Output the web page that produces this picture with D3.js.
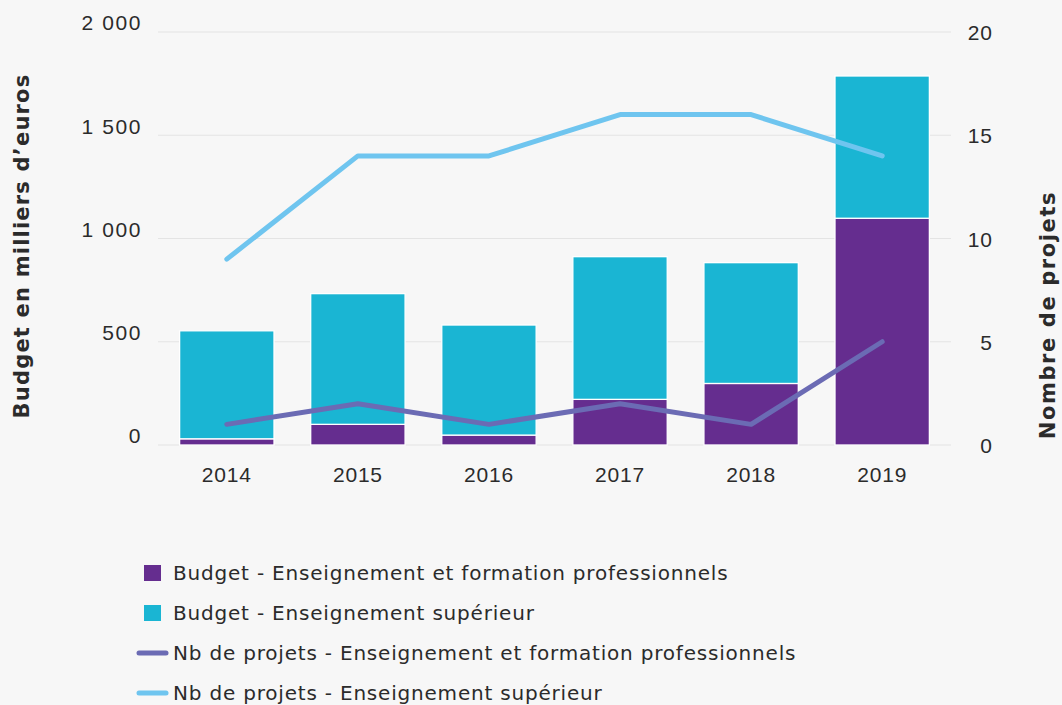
<!DOCTYPE html>
<html>
<head>
<meta charset="utf-8">
<script src="https://cdn.jsdelivr.net/npm/d3@7"></script>
<style>
  html, body { margin: 0; padding: 0; background: #f7f7f7; }
  svg { display: block; font-family: "DejaVu Sans", sans-serif; }
</style>
</head>
<body>
<svg id="chart"></svg>
<script>
// data
var years = ["2014", "2015", "2016", "2017", "2018", "2019"];
var budgetPro = [30, 100, 48, 221, 298, 1098];
var budgetSup = [523, 633, 533, 691, 585, 689];
var projetsPro = [1, 2, 1, 2, 1, 5];
var projetsSup = [9, 14, 14, 16, 16, 14];
var leftTicks = [0, 500, 1000, 1500, 2000];
var rightTicks = [0, 5, 10, 15, 20];

var colors = {
    pro: "#652d8f",
    sup: "#1ab5d3",
    linePro: "#6b6bb4",
    lineSup: "#6fc5ef",
    text: "#2b2b2b",
    grid: "#e4e4e4"
};

var svgWidth = 1062, svgHeight = 705;
var margin = {top: 32, right: 111, bottom: 260, left: 158};
var width = svgWidth - margin.left - margin.right;
var height = svgHeight - margin.top - margin.bottom;

var svg = d3.select("#chart").attr("width", svgWidth).attr("height", svgHeight);
svg.append("rect").attr("width", svgWidth).attr("height", svgHeight).attr("fill", "#f7f7f7");

var g = svg.append("g").attr("transform", "translate(" + margin.left + "," + margin.top + ")");

var x = d3.scaleBand().domain(years).range([0, width]).paddingInner(0.28).paddingOuter(0.165);
var y = d3.scaleLinear().domain([0, 2000]).range([height, 0]);
var y2 = d3.scaleLinear().domain([0, 20]).range([height, 0]);

var fmt = function (d) { return d3.format(",")(d).replace(/,/g, " "); };

// grid lines
g.selectAll(".grid")
    .data(leftTicks)
    .enter().append("line")
    .attr("x1", 0).attr("x2", width)
    .attr("y1", function (d) { return y(d); })
    .attr("y2", function (d) { return y(d); })
    .attr("stroke", colors.grid)
    .attr("stroke-width", 1.2);

// left axis labels
var yAxis = g.append("g")
    .call(d3.axisLeft(y).tickValues(leftTicks).tickFormat(fmt).tickSize(0).tickPadding(16));
yAxis.select(".domain").remove();
yAxis.selectAll("text").attr("dy", "-0.1em")
    .style("font-size", "21px").style("letter-spacing", "1.6px").attr("fill", colors.text);

// right axis labels
var y2Axis = g.append("g").attr("transform", "translate(" + (width + 42) + ",0)")
    .call(d3.axisRight(y2).tickValues(rightTicks).tickSize(0).tickPadding(0));
y2Axis.select(".domain").remove();
y2Axis.selectAll("text").attr("text-anchor", "end").attr("dy", "0.36em")
    .style("font-size", "21px").style("letter-spacing", "1px").attr("fill", colors.text);

// x axis labels
var xAxis = g.append("g").attr("transform", "translate(0," + height + ")")
    .call(d3.axisBottom(x).tickSize(0).tickPadding(22));
xAxis.select(".domain").remove();
xAxis.selectAll("text").style("font-size", "21px").style("letter-spacing", "0.8px").attr("fill", colors.text);

// stacked bars
var rows = years.map(function (yr, i) {
    return {year: yr, pro: budgetPro[i], sup: budgetSup[i]};
});
var stack = d3.stack().keys(["pro", "sup"])(rows);

g.selectAll(".layer")
    .data(stack)
    .enter().append("g")
    .attr("fill", function (d) { return colors[d.key]; })
    .selectAll("rect")
    .data(function (d) { return d; })
    .enter().append("rect")
    .attr("x", function (d) { return x(d.data.year); })
    .attr("width", x.bandwidth())
    .attr("y", function (d) { return y(d[1]); })
    .attr("height", function (d) { return y(d[0]) - y(d[1]); })
    .attr("stroke", "#ffffff")
    .attr("stroke-width", 1.3);

// lines on right axis
var line = d3.line()
    .x(function (d, i) { return x(years[i]) + x.bandwidth() / 2; })
    .y(function (d) { return y2(d); });

g.append("path").datum(projetsPro)
    .attr("d", line).attr("fill", "none")
    .attr("stroke", colors.linePro).attr("stroke-width", 5)
    .attr("stroke-linecap", "round").attr("stroke-linejoin", "round");

g.append("path").datum(projetsSup)
    .attr("d", line).attr("fill", "none")
    .attr("stroke", colors.lineSup).attr("stroke-width", 5)
    .attr("stroke-linecap", "round").attr("stroke-linejoin", "round");

// axis titles
svg.append("text")
    .attr("transform", "translate(29,246) rotate(-90)")
    .attr("text-anchor", "middle")
    .style("font-size", "21px").style("font-weight", "bold").style("letter-spacing", "1.2px")
    .attr("fill", colors.text)
    .text("Budget en milliers d\u2019euros");

svg.append("text")
    .attr("transform", "translate(1055,315) rotate(-90)")
    .attr("text-anchor", "middle")
    .style("font-size", "21px").style("font-weight", "bold").style("letter-spacing", "1.6px")
    .attr("fill", colors.text)
    .text("Nombre de projets");

// legend
var legendItems = [
    {label: "Budget - Enseignement et formation professionnels", type: "rect", color: colors.pro},
    {label: "Budget - Enseignement supérieur", type: "rect", color: colors.sup},
    {label: "Nb de projets - Enseignement et formation professionnels", type: "line", color: colors.linePro},
    {label: "Nb de projets - Enseignement supérieur", type: "line", color: colors.lineSup}
];

var legend = svg.append("g").attr("transform", "translate(0,573)");
var item = legend.selectAll(".item")
    .data(legendItems)
    .enter().append("g")
    .attr("transform", function (d, i) { return "translate(0," + (i * 40) + ")"; });

item.filter(function (d) { return d.type === "rect"; })
    .append("rect")
    .attr("x", 144).attr("y", -8).attr("width", 17).attr("height", 16)
    .attr("fill", function (d) { return d.color; });

item.filter(function (d) { return d.type === "line"; })
    .append("line")
    .attr("x1", 139).attr("x2", 166).attr("y1", 0).attr("y2", 0)
    .attr("stroke", function (d) { return d.color; })
    .attr("stroke-width", 5).attr("stroke-linecap", "round");

item.append("text")
    .attr("x", 173).attr("dy", "0.35em")
    .style("font-size", "20px").style("letter-spacing", "0.8px")
    .attr("fill", colors.text)
    .text(function (d) { return d.label; });
</script>
</body>
</html>
